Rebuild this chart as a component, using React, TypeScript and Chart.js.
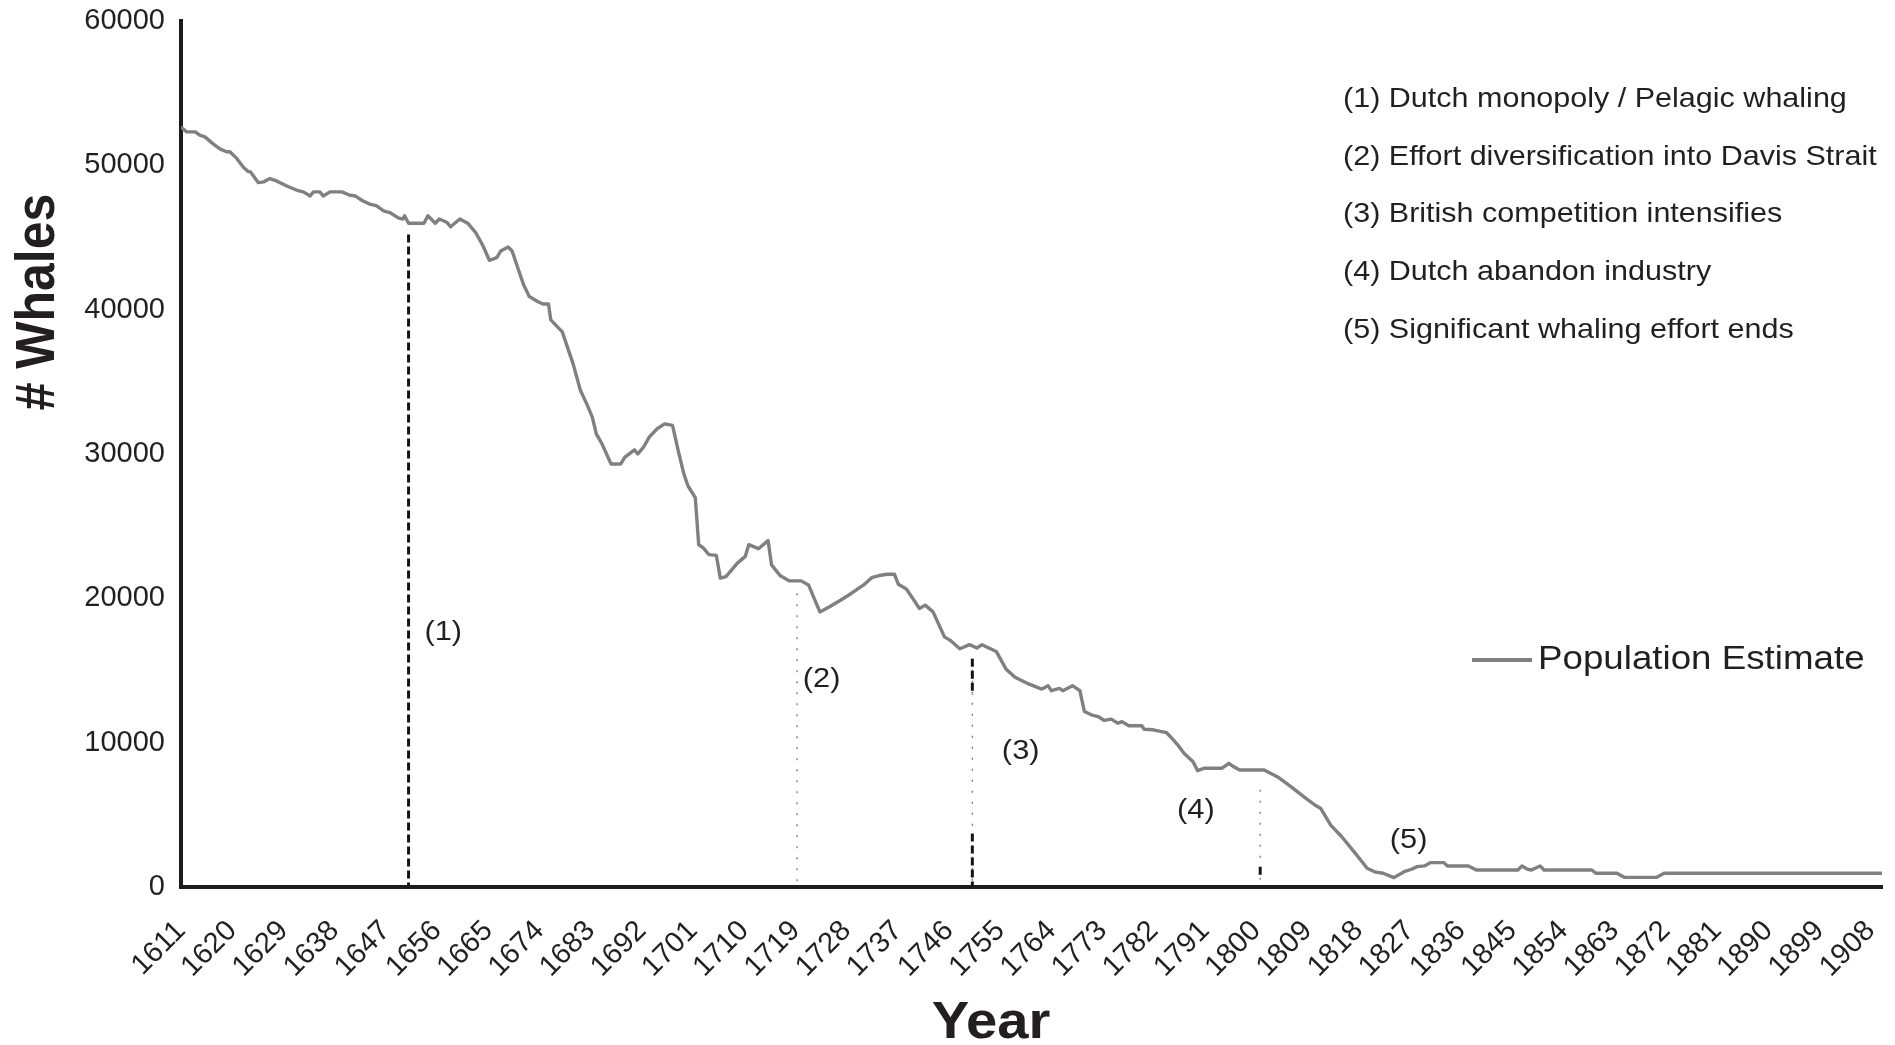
import React, { useEffect, useRef } from 'react';
import { Chart, registerables } from 'chart.js';

Chart.register(...registerables);

// ---------------- data ----------------
const years = [
  1611, 1612, 1613.5, 1614.3, 1615.2, 1616.7, 1617.9, 1619, 1619.6, 1620.8,
  1622, 1622.8, 1623.2, 1624.6, 1625.5, 1626.6, 1627.8, 1629.6, 1631.4, 1632.5,
  1633.7, 1634.3, 1635.4, 1636, 1637.2, 1639.3, 1640.7, 1641.6, 1643, 1644.2,
  1645.4, 1646.6, 1647.7, 1649.2, 1650, 1650.3, 1651, 1653.7, 1654.4, 1655.7,
  1656.4, 1657.7, 1658.4, 1660, 1661.4, 1662.8, 1664.1, 1665.2, 1666.5, 1667.2,
  1668.5, 1669.2, 1670.2, 1671.2, 1672.2, 1673.6, 1674.6, 1675.6, 1676, 1677.3,
  1678, 1679.9, 1681.2, 1682.3, 1683.3, 1684, 1685, 1686.6, 1688.3, 1689,
  1690.7, 1691.3, 1692.3, 1693.3, 1694.7, 1696, 1697.4, 1698.4, 1699.4, 1700.1,
  1701.4, 1702, 1702.8, 1703.8, 1705.1, 1705.8, 1706.8, 1708.8, 1710.2, 1710.8,
  1712.5, 1714.2, 1714.8, 1716.3, 1717.9, 1720, 1721.3, 1723.3, 1725, 1727,
  1728.4, 1729.7, 1731, 1732.4, 1733.7, 1735.1, 1736.4, 1737.1, 1738.5, 1739.8,
  1740.8, 1741.8, 1743.2, 1745.2, 1746.2, 1747.9, 1749.6, 1750.9, 1751.8, 1754.3,
  1756, 1757.6, 1760, 1762.3, 1763.4, 1764, 1765.4, 1766, 1767.7, 1769,
  1769.8, 1771, 1772.2, 1773.3, 1774.5, 1775.7, 1776.4, 1777.6, 1779.9, 1780.3,
  1781.9, 1784.2, 1785, 1786.2, 1787.3, 1788.9, 1789.7, 1790.9, 1794, 1795.2,
  1796, 1797.1, 1801.4, 1803.7, 1806.1, 1808.4, 1810.3, 1811.3, 1813.1, 1815,
  1817.5, 1819.5, 1820.8, 1822.3, 1824.2, 1826, 1827.3, 1828.3, 1829.6, 1830.6,
  1833, 1833.6, 1837.3, 1838.7, 1846, 1846.7, 1847.7, 1848.4, 1849.9, 1850.6,
  1859, 1859.7, 1863.4, 1864.7, 1870.4, 1871.7, 1910,
];

const whales = [
  52650, 52320, 52320, 52090, 51970, 51470, 51120, 50940, 50940, 50480,
  49850, 49570, 49550, 48800, 48850, 49080, 48920, 48570, 48270, 48160,
  47880, 48160, 48160, 47880, 48160, 48160, 47930, 47880, 47530, 47310,
  47190, 46840, 46730, 46360, 46280, 46510, 45990, 45990, 46510, 45990,
  46280, 46060, 45740, 46280, 45990, 45340, 44410, 43420, 43600, 44060,
  44340, 44060, 42900, 41740, 40920, 40580, 40390, 40390, 39290, 38760,
  38480, 36280, 34420, 33490, 32560, 31400, 30700, 29310, 29310, 29770,
  30290, 30000, 30470, 31170, 31750, 32090, 31980, 30240, 28610, 27800,
  26980, 23720, 23490, 23030, 22980, 21400, 21510, 22440, 22910, 23720,
  23440, 24000, 22320, 21580, 21210, 21210, 20930, 19060, 19420, 19890,
  20230, 20580, 20930, 21430, 21580, 21670, 21670, 20970, 20650, 19890,
  19300, 19530, 19060, 17330, 17090, 16510, 16790, 16560, 16790, 16320,
  15110, 14530, 14070, 13710, 13950, 13600, 13760, 13600, 13950, 13600,
  12160, 11930, 11810, 11540, 11630, 11350, 11460, 11170, 11170, 10930,
  10890, 10700, 10380, 9850, 9270, 8680, 8060, 8230, 8230, 8570,
  8340, 8110, 8110, 7640, 6950, 6250, 5680, 5460, 4290, 3500,
  2300, 1300, 1050, 950, 650, 1060, 1230, 1410, 1460, 1690,
  1690, 1460, 1460, 1180, 1180, 1460, 1230, 1180, 1460, 1180,
  1180, 950, 950, 670, 670, 950, 950,
];

const xTickYears = [
  1611, 1620, 1629, 1638, 1647, 1656, 1665, 1674, 1683, 1692, 1701, 1710,
  1719, 1728, 1737, 1746, 1755, 1764, 1773, 1782, 1791, 1800, 1809, 1818,
  1827, 1836, 1845, 1854, 1863, 1872, 1881, 1890, 1899, 1908,
];
const yTickValues = [0, 10000, 20000, 30000, 40000, 50000, 60000];

const eventYears = [1651, 1719.3, 1750.1, 1800.7];
const eventTops = [45200, 20350, 15810, 6730];

const eventLabels = ['(1)', '(2)', '(3)', '(4)', '(5)'];
const eventLabelYears = [1657.1, 1723.6, 1758.6, 1789.4, 1826.8];
const eventLabelValues = [17620, 14360, 9430, 5340, 3260];

const eventDescriptions = [
  '(1) Dutch monopoly / Pelagic whaling',
  '(2) Effort diversification into Davis Strait',
  '(3) British competition intensifies',
  '(4) Dutch abandon industry',
  '(5) Significant whaling effort ends',
];

const seriesName = 'Population Estimate';
const xTitle = 'Year';
const yTitle = '# Whales';

// ---------------- styles ----------------
const FONT = "'Liberation Sans', Arial, Helvetica, sans-serif";
const TEXT = '#231f20';
const LINE = '#808080';
const AXIS = '#1f1b1c';

const thin = { width: 1.2, dash: [2, 9], color: '#6a6a6a' };
const thick = { width: 3, dash: [8, 4], color: '#151515' };
const eventLineStyles = [
  { base: thick, thickRanges: [] as number[][] },
  { base: thin, thickRanges: [] as number[][] },
  { base: thin, thickRanges: [[15810, 13300], [3700, 0]] },
  { base: thin, thickRanges: [[1400, 600]] },
];

function drawText(
  ctx: CanvasRenderingContext2D,
  text: string,
  x: number,
  y: number,
  font: string,
  align: CanvasTextAlign,
  sx: number,
  rotate = 0,
) {
  ctx.save();
  ctx.translate(x, y);
  ctx.scale(sx, 1);
  if (rotate) ctx.rotate(rotate);
  ctx.font = font;
  ctx.textAlign = align;
  ctx.textBaseline = 'middle';
  ctx.fillStyle = TEXT;
  ctx.fillText(text, 0, 0);
  ctx.restore();
}

const overlayPlugin = {
  id: 'whaleOverlay',
  beforeDatasetsDraw(chart: any) {
    const { ctx } = chart;
    const xs = chart.scales.x;
    const ys = chart.scales.y;
    eventYears.forEach((yr, i) => {
      const px = xs.getPixelForValue(yr);
      const top = ys.getPixelForValue(eventTops[i]);
      const bottom = ys.getPixelForValue(0);
      const st = eventLineStyles[i];
      ctx.save();
      ctx.beginPath();
      ctx.lineWidth = st.base.width;
      ctx.strokeStyle = st.base.color;
      ctx.setLineDash(st.base.dash);
      ctx.moveTo(px, top);
      ctx.lineTo(px, bottom);
      ctx.stroke();
      st.thickRanges.forEach((r) => {
        ctx.beginPath();
        ctx.lineWidth = thick.width;
        ctx.strokeStyle = thick.color;
        ctx.setLineDash(thick.dash);
        ctx.moveTo(px, ys.getPixelForValue(r[0]));
        ctx.lineTo(px, ys.getPixelForValue(r[1]));
        ctx.stroke();
      });
      ctx.restore();
    });
  },
  afterDraw(chart: any) {
    const { ctx, chartArea } = chart;
    const xs = chart.scales.x;
    const ys = chart.scales.y;

    // event number labels
    eventLabels.forEach((lab, i) => {
      drawText(
        ctx,
        lab,
        xs.getPixelForValue(eventLabelYears[i]),
        ys.getPixelForValue(eventLabelValues[i]),
        `28px ${FONT}`,
        'center',
        1.1,
      );
    });

    // description list (top right)
    const listLeft = chartArea.right - 539;
    eventDescriptions.forEach((d, i) => {
      drawText(ctx, d, listLeft, chartArea.top + 78 + i * 57.8, `28px ${FONT}`, 'left', 1.09);
    });

    // legend
    const ly = chartArea.top + 639;
    const lx0 = chartArea.right - 410;
    ctx.save();
    ctx.beginPath();
    ctx.strokeStyle = LINE;
    ctx.lineWidth = 4;
    ctx.moveTo(lx0, ly);
    ctx.lineTo(lx0 + 60, ly);
    ctx.stroke();
    ctx.restore();
    drawText(ctx, seriesName, lx0 + 66, ly, `34px ${FONT}`, 'left', 1.08);

    // axis titles
    drawText(ctx, xTitle, 991, 1024, `bold 52px ${FONT}`, 'center', 1.08);
    drawText(ctx, yTitle, 39, 302, `bold 50px ${FONT}`, 'center', 1.1, -Math.PI / 2);
  },
};

export default function App() {
  const canvasRef = useRef<HTMLCanvasElement | null>(null);

  useEffect(() => {
    const canvas = canvasRef.current;
    if (!canvas) return;
    const points = years.map((yr, i) => ({ x: yr, y: whales[i] }));
    const chart = new Chart(canvas, {
      type: 'line',
      data: {
        datasets: [
          {
            label: seriesName,
            data: points,
            borderColor: LINE,
            backgroundColor: LINE,
            borderWidth: 3.4,
            pointRadius: 0,
            tension: 0,
            fill: false,
            borderJoinStyle: 'round',
          },
        ],
      },
      options: {
        responsive: false,
        animation: false,
        devicePixelRatio: 1,
        layout: { padding: { left: 0, top: 21, right: 13, bottom: 0 } },
        plugins: {
          legend: { display: false },
          tooltip: { enabled: false },
          title: { display: false },
        },
        scales: {
          x: {
            type: 'linear',
            min: 1611,
            max: 1910,
            bounds: 'data',
            grid: { display: false, drawTicks: false },
            border: { display: true, color: AXIS, width: 4 },
            afterBuildTicks: (axis: any) => {
              axis.ticks = xTickYears.map((v) => ({ value: v }));
            },
            afterFit: (axis: any) => {
              axis.height = 158;
              axis.paddingLeft = 0;
              axis.paddingRight = 0;
            },
            ticks: {
              autoSkip: false,
              maxRotation: 45,
              minRotation: 45,
              padding: 27,
              color: TEXT,
              font: { family: FONT, size: 29 },
              callback: (v: any) => String(v),
            },
          },
          y: {
            type: 'linear',
            min: 0,
            max: 60000,
            grid: { display: false, drawTicks: false },
            border: { display: true, color: AXIS, width: 4 },
            afterBuildTicks: (axis: any) => {
              axis.ticks = yTickValues.map((v) => ({ value: v }));
            },
            afterFit: (axis: any) => {
              axis.width = 181;
              axis.paddingTop = 0;
              axis.paddingBottom = 0;
            },
            ticks: {
              padding: 16,
              color: TEXT,
              font: { family: FONT, size: 29 },
              callback: (v: any) => String(v),
            },
          },
        },
      },
      plugins: [overlayPlugin],
    });
    return () => chart.destroy();
  }, []);

  return (
    <div style={{ position: 'absolute', left: 0, top: 0, width: 1895, height: 1045, background: '#fff' }}>
      <canvas
        ref={canvasRef}
        width={1895}
        height={1045}
        style={{ display: 'block', width: 1895, height: 1045 }}
      />
    </div>
  );
}
